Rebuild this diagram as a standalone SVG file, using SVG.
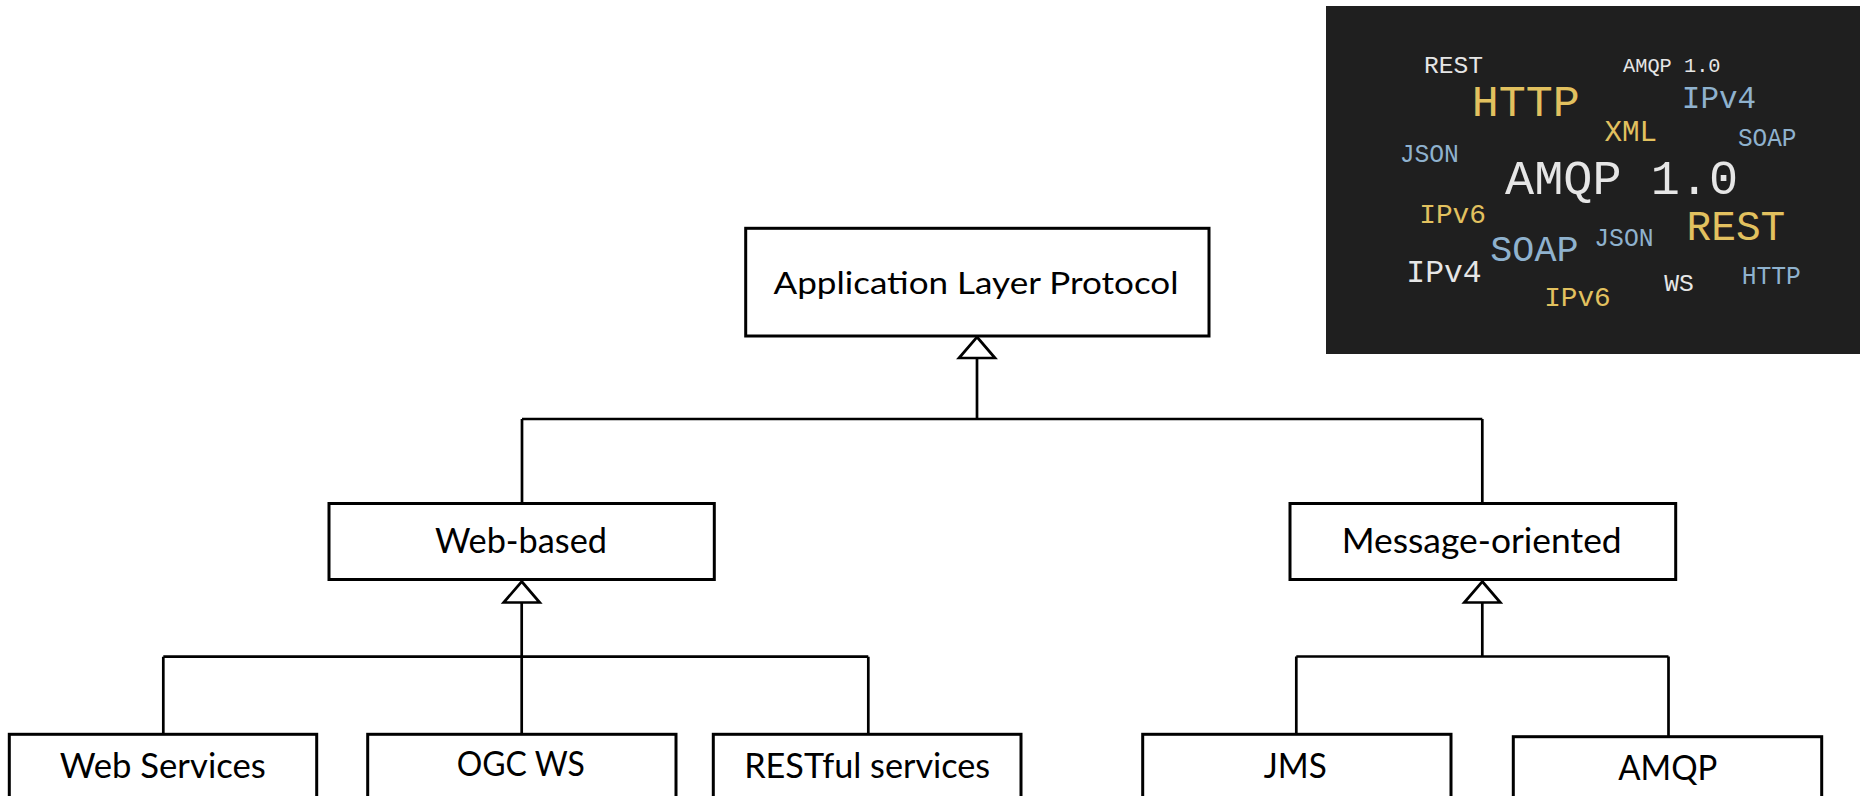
<svg xmlns="http://www.w3.org/2000/svg" xmlns:xlink="http://www.w3.org/1999/xlink" width="1860" height="796" viewBox="0 0 1860 796">
  <style>
    .box { fill: #ffffff; stroke: #000000; stroke-width: 3; }
    .lbl { font-family: Lato, "Open Sans", "Liberation Sans", sans-serif; fill: #000000; text-anchor: middle; }
    .wire { fill: none; stroke: #000000; stroke-width: 2.7; }
    .gen { fill: #ffffff; stroke: #000000; stroke-width: 2.7; stroke-linejoin: miter; }
    .cloud { font-family: "Liberation Mono", "Courier New", monospace; text-anchor: middle; }
    .w { fill: #e6e6e6; }
    .y { fill: #e2c15f; }
    .b { fill: #8fb2ce; }
  </style>
  <defs>
    <!-- hollow generalization head, apex at origin pointing up -->
    <polygon id="genHead" class="gen" points="0,0 18,21 -18,21"/>
  </defs>

  <rect x="0" y="0" width="1860" height="796" fill="#ffffff"/>

  <!-- keyword cloud panel -->
  <g id="cloud">
    <rect x="1326" y="6" width="534" height="348" fill="#1f1f1f"/>
    <text class="cloud w" x="1453.4" y="73" font-size="24" textLength="59" lengthAdjust="spacingAndGlyphs">REST</text>
    <text class="cloud w" x="1671.8" y="72" font-size="21" textLength="97.5" lengthAdjust="spacingAndGlyphs">AMQP 1.0</text>
    <text class="cloud y" x="1525.7" y="116" font-size="45" textLength="108" lengthAdjust="spacingAndGlyphs">HTTP</text>
    <text class="cloud b" x="1719" y="108" font-size="31" textLength="74.3" lengthAdjust="spacingAndGlyphs">IPv4</text>
    <text class="cloud y" x="1630.8" y="141" font-size="29" textLength="52.7" lengthAdjust="spacingAndGlyphs">XML</text>
    <text class="cloud b" x="1767.2" y="146" font-size="25" textLength="58.6" lengthAdjust="spacingAndGlyphs">SOAP</text>
    <text class="cloud b" x="1429.3" y="162" font-size="25" textLength="59.3" lengthAdjust="spacingAndGlyphs">JSON</text>
    <text class="cloud w" x="1621.6" y="194" font-size="49" textLength="233" lengthAdjust="spacingAndGlyphs">AMQP 1.0</text>
    <text class="cloud y" x="1452.6" y="223" font-size="28" textLength="66.8" lengthAdjust="spacingAndGlyphs">IPv6</text>
    <text class="cloud y" x="1735.9" y="240" font-size="42" textLength="98.9" lengthAdjust="spacingAndGlyphs">REST</text>
    <text class="cloud b" x="1623.9" y="246" font-size="25" textLength="59.3" lengthAdjust="spacingAndGlyphs">JSON</text>
    <text class="cloud b" x="1534.4" y="261" font-size="37" textLength="88.1" lengthAdjust="spacingAndGlyphs">SOAP</text>
    <text class="cloud w" x="1444" y="282" font-size="31" textLength="75.4" lengthAdjust="spacingAndGlyphs">IPv4</text>
    <text class="cloud w" x="1679" y="291" font-size="24" textLength="29.6" lengthAdjust="spacingAndGlyphs">WS</text>
    <text class="cloud b" x="1771.3" y="284" font-size="25" textLength="59.3" lengthAdjust="spacingAndGlyphs">HTTP</text>
    <text class="cloud y" x="1577.4" y="306" font-size="28" textLength="66.5" lengthAdjust="spacingAndGlyphs">IPv6</text>
  </g>

  <!-- inheritance connectors -->
  <g id="connectors">
    <path class="wire" d="M977,358 V419 M522,419 H1482.3 M522,419 V504 M1482.3,419 V504"/>
    <path class="wire" d="M521.7,603 V734 M163.3,656.7 H868.3 M163.3,656.7 V734 M868.3,656.7 V734"/>
    <path class="wire" d="M1482.3,603 V656.5 M1296.3,656.5 H1668.5 M1296.3,656.5 V734 M1668.5,656.5 V737"/>
    <use xlink:href="#genHead" x="977" y="337"/>
    <use xlink:href="#genHead" x="521.7" y="581.5"/>
    <use xlink:href="#genHead" x="1482.3" y="581.5"/>
  </g>

  <g id="node-app-layer">
    <rect class="box" x="745.7" y="228.3" width="463.3" height="107.7"/>
    <text class="lbl" x="976" y="294" font-size="30.5" textLength="405" lengthAdjust="spacingAndGlyphs">Application Layer Protocol</text>
  </g>

  <g id="node-web-based">
    <rect class="box" x="329" y="503.5" width="385.3" height="76"/>
    <text class="lbl" x="521" y="553" font-size="34" textLength="172" lengthAdjust="spacingAndGlyphs">Web-based</text>
  </g>

  <g id="node-message-oriented">
    <rect class="box" x="1290" y="503.5" width="385.7" height="76"/>
    <text class="lbl" x="1481.7" y="553.3" font-size="34" textLength="280" lengthAdjust="spacingAndGlyphs">Message-oriented</text>
  </g>

  <g id="node-web-services">
    <rect class="box" x="9.3" y="734.3" width="307.4" height="100"/>
    <text class="lbl" x="162.8" y="777.7" font-size="34" textLength="206" lengthAdjust="spacingAndGlyphs">Web Services</text>
  </g>

  <g id="node-ogc-ws">
    <rect class="box" x="367.7" y="734.3" width="308.3" height="100"/>
    <text class="lbl" x="520.8" y="776" font-size="34" textLength="128" lengthAdjust="spacingAndGlyphs">OGC WS</text>
  </g>

  <g id="node-restful">
    <rect class="box" x="713.3" y="734.3" width="307.7" height="100"/>
    <text class="lbl" x="867.2" y="777.7" font-size="34" textLength="246" lengthAdjust="spacingAndGlyphs">RESTful services</text>
  </g>

  <g id="node-jms">
    <rect class="box" x="1142.7" y="734.3" width="308.3" height="100"/>
    <text class="lbl" x="1295.3" y="777.7" font-size="34" textLength="63" lengthAdjust="spacingAndGlyphs">JMS</text>
  </g>

  <g id="node-amqp">
    <rect class="box" x="1513.3" y="736.7" width="308.4" height="100"/>
    <text class="lbl" x="1667.8" y="780" font-size="34" textLength="99" lengthAdjust="spacingAndGlyphs">AMQP</text>
  </g>
</svg>
